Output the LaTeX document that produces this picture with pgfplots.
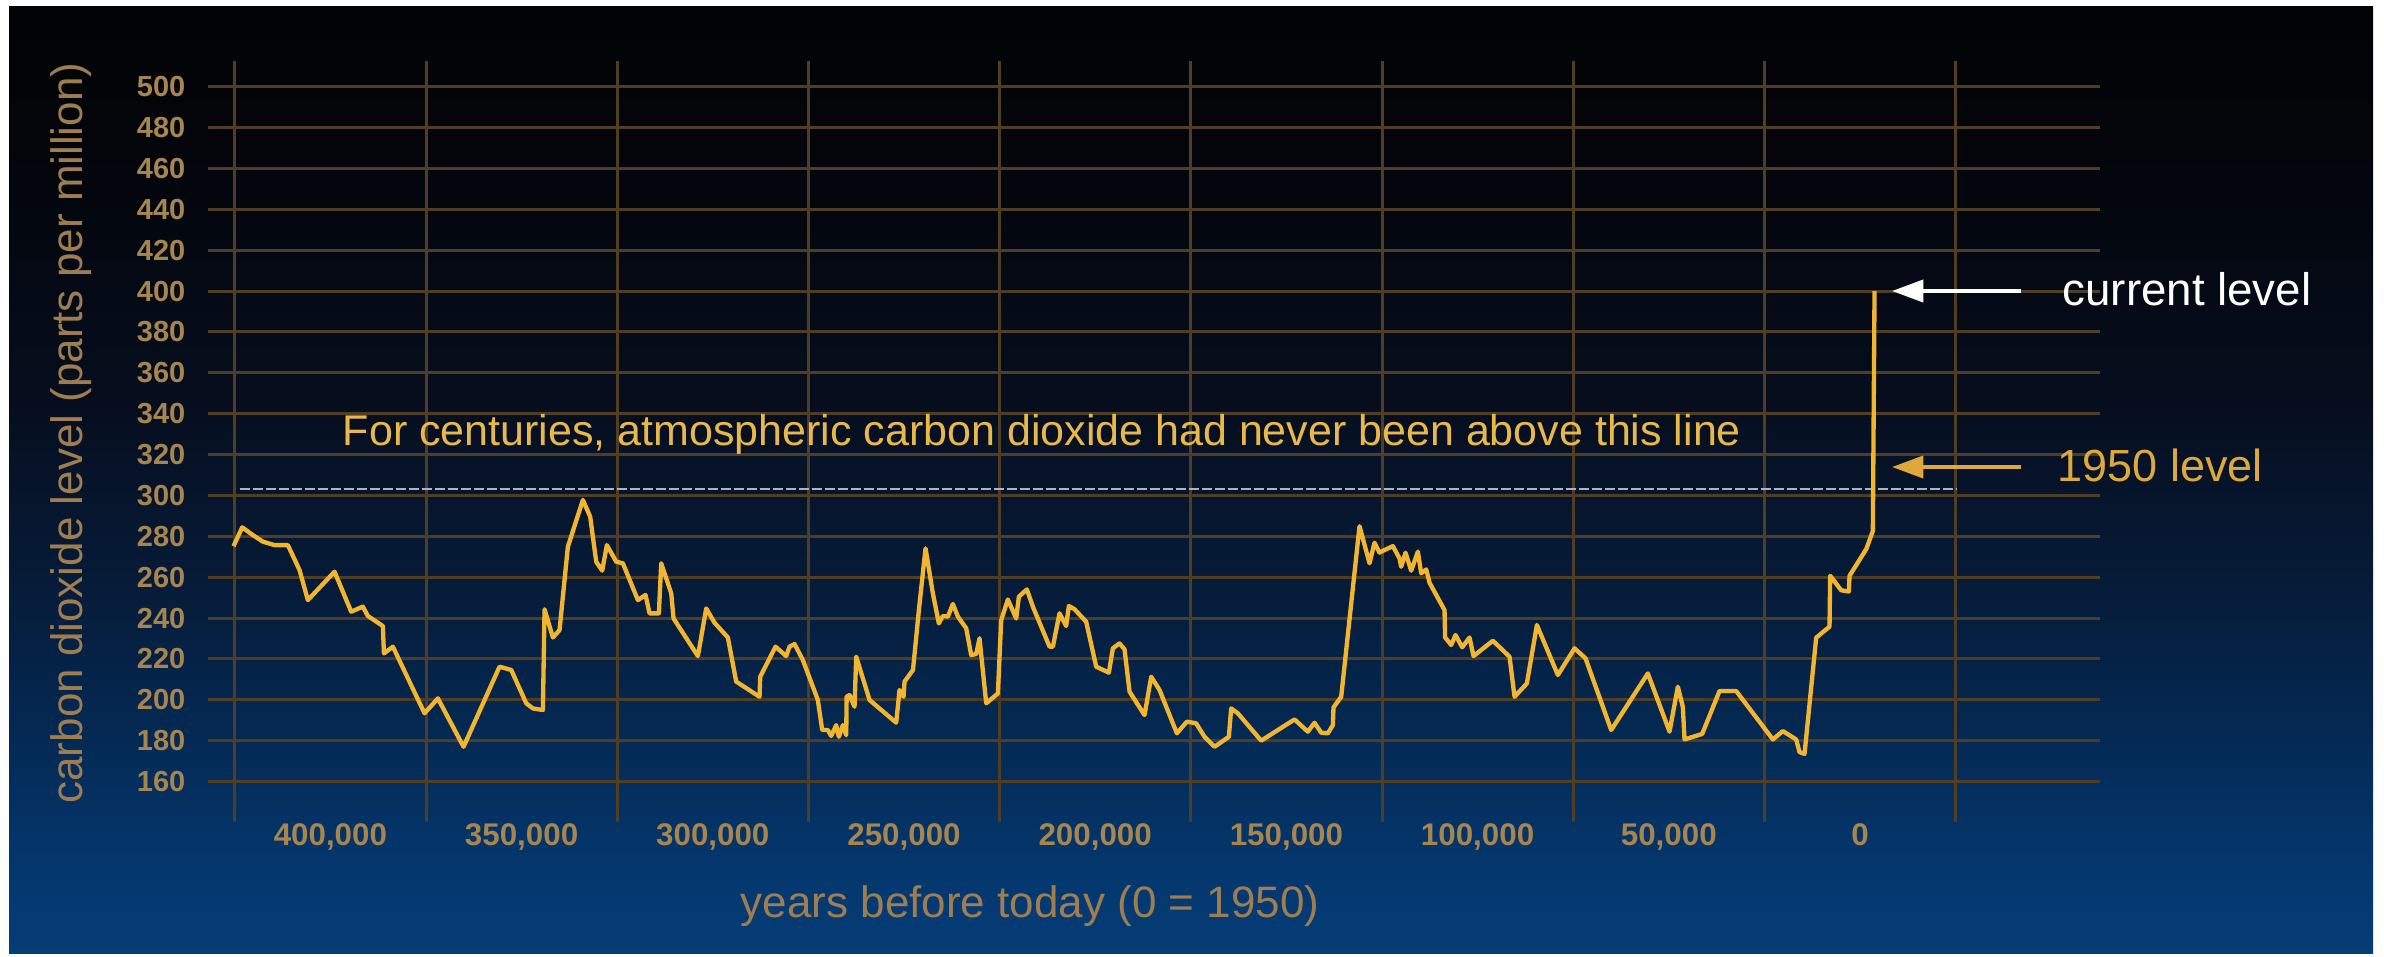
\documentclass[border=0pt]{standalone}
\usepackage{fontspec}
\setmainfont{Liberation Sans}
\usepackage{pgfplots}
\usepackage{pgfplotstable}
\pgfplotsset{compat=1.18}
\usetikzlibrary{arrows.meta}
\definecolor{gridc}{HTML}{4F3D24}
\definecolor{tickc}{HTML}{A6854F}
\definecolor{titlec}{HTML}{9E7E50}
\definecolor{linec}{HTML}{F2B530}
\definecolor{notec}{HTML}{E8B84B}
\definecolor{goldc}{HTML}{DDA93C}
\definecolor{dashc}{HTML}{AEB3C2}
\definecolor{bg0}{HTML}{053D78}
\definecolor{bg1}{HTML}{04356A}
\definecolor{bg2}{HTML}{042A55}
\definecolor{bg3}{HTML}{061C3A}
\definecolor{bg4}{HTML}{060E1E}
\definecolor{bg5}{HTML}{03060D}
\definecolor{bg6}{HTML}{020305}
\pgfdeclareverticalshading{bgshade}{100bp}{color(0bp)=(bg0); color(25bp)=(bg0); color(30.5bp)=(bg1); color(36bp)=(bg2); color(44bp)=(bg3); color(54bp)=(bg4); color(65bp)=(bg5); color(75bp)=(bg6); color(100bp)=(bg6)}

\pgfplotstableread{
year ppm
425330 275.2
423060 284.4
420270 280.6
417660 277.4
414610 275.7
411120 275.7
408070 263.5
405890 248.8
398920 262.7
394560 243.1
391510 245.6
390200 241.0
386280 236.1
386000 222.7
383660 226.0
375380 193.4
371890 200.7
365180 177.0
355770 216.2
352710 214.6
348790 198.3
347050 195.8
344430 195.0
344000 244.3
341820 230.5
340080 234.1
337900 274.9
333970 297.8
332060 289.6
330490 267.6
328920 263.2
327700 275.7
325260 267.6
323510 266.8
319590 248.8
317590 251.3
316540 242.3
314100 242.3
313490 266.8
310870 252.1
310260 239.8
303900 221.4
301720 244.7
299550 237.7
296060 230.5
293880 208.9
287780 201.5
287600 211.3
283600 226.0
280810 221.4
279940 226.0
278630 227.3
276450 219.5
272530 199.9
271390 185.2
269910 185.2
269040 182.3
267730 187.6
267030 181.9
265990 187.6
265110 182.7
265000 201.5
264240 202.3
262940 196.6
262500 221.1
259010 199.9
252040 188.8
251170 204.8
250120 201.5
249860 208.9
247650 214.6
246110 243.9
244370 274.1
242450 252.1
240880 237.4
239840 241.0
238530 240.7
237220 246.9
235910 240.7
233730 235.0
232430 221.9
231120 222.4
230250 230.1
228500 198.3
225450 203.1
224580 239.0
222840 249.1
220660 239.8
219960 250.5
217870 254.0
216300 245.6
211940 226.0
211070 226.0
209330 242.3
207590 236.1
206890 245.9
205400 244.3
202360 238.2
199740 216.2
196430 213.3
195380 225.2
193640 227.6
192330 224.7
191020 204.0
187100 192.5
185360 211.3
183170 204.8
178640 183.6
176030 189.3
173600 188.5
171410 181.9
168800 177.0
165050 181.9
164440 195.8
162700 193.4
156590 180.0
147880 190.4
144390 184.4
142650 188.8
140900 183.9
139160 183.6
137850 187.6
137680 196.3
135670 201.5
130880 285.0
128260 266.8
126960 276.9
125650 272.0
124340 273.3
122160 275.2
120420 269.2
119980 265.1
118850 272.0
117370 263.2
115620 272.5
114750 261.9
113440 263.8
112570 257.3
108650 243.9
108500 230.5
106910 226.8
105780 231.7
104030 225.7
102110 230.5
101070 221.4
96010 228.9
91650 221.1
90340 201.5
87120 208.0
84500 236.6
79010 212.1
74650 225.2
71780 220.3
65070 185.2
55480 212.9
49810 184.4
47640 206.4
46330 196.6
45890 180.6
41270 183.3
36740 204.3
32380 204.3
22790 180.6
20180 184.7
16690 180.6
15820 174.4
14510 173.5
11460 230.4
7970 235.8
7800 260.7
4920 253.6
2920 253.0
2740 260.7
-1620 273.7
-3360 282.6
-3800 400.0
}\cotwodata

\begin{document}
\begin{tikzpicture}
\useasboundingbox (0,0) rectangle (715.2pt,-286.8pt);
\fill[white] (0,0) rectangle (715.2pt,-286.8pt);
\shade[shading=bgshade] (2.7pt,-285.9pt) rectangle (711.9pt,-1.8pt);
\begin{axis}[
  at={(62.4pt,-246.6pt)}, anchor=south west,
  scale only axis, width=567.6pt, height=228.3pt,
  xmin=-432008, xmax=62762, ymin=140.2, ymax=512.6,
  scaled x ticks=false, scaled y ticks=false,
  axis line style={draw=none},
  major tick length=0pt,
  xtick={-400000,-350000,-300000,-250000,-200000,-150000,-100000,-50000,0},
  xticklabels={{400,000},{350,000},{300,000},{250,000},{200,000},{150,000},{100,000},{50,000},{0}},
  extra x ticks={-425000,-375000,-325000,-275000,-225000,-175000,-125000,-75000,-25000,25000},
  extra x tick labels={},
  extra x tick style={grid=major},
  ytick={160,180,...,500},
  ymajorgrids=true,
  major grid style={draw=gridc, line width=0.9pt},
  /pgf/number format/assume math mode=true,
  yticklabel style={font=\fontsize{8.7}{9}\selectfont\bfseries, text=tickc, anchor=east, inner sep=0pt, xshift=-6.6pt},
  xticklabel style={font=\fontsize{9.4}{10}\selectfont\bfseries, text=tickc, anchor=base, inner sep=0pt, yshift=-6.9pt},
  clip=false,
]
\addplot[dashc, line width=0.7pt, dash pattern=on 3pt off 0.9pt, forget plot] coordinates {(-423760,303) (25000,303)};
\addplot[linec, line width=1.3pt, line join=round, no markers] table[x expr=-\thisrow{year}, y=ppm]{\cotwodata};
\end{axis}
\draw[white, line width=1.2pt, -{Triangle[length=9.4pt,width=6.6pt]}] (606.3pt,-87.3pt) -- (567.6pt,-87.3pt);
\draw[goldc, line width=1.2pt, -{Triangle[length=9.4pt,width=6.6pt]}] (606.3pt,-140.1pt) -- (567.6pt,-140.1pt);
\node[anchor=base, text=notec, font=\fontsize{12.9}{14}\selectfont, inner sep=0pt] at (312.6pt,-133.5pt) {For centuries, atmospheric carbon dioxide had never been above this line};
\node[rotate=90, text=titlec, font=\fontsize{13.2}{15}\selectfont, inner sep=0pt] at (21.3pt,-129.9pt) {carbon dioxide level (parts per million)};
\node[anchor=base, text=titlec, font=\fontsize{13.2}{15}\selectfont, inner sep=0pt] at (309pt,-275.1pt) {years before today (0 = 1950)};
\node[anchor=base west, text=white, font=\fontsize{13.7}{15}\selectfont, inner sep=0pt] at (618.6pt,-91.5pt) {current level};
\node[anchor=base west, text=goldc, font=\fontsize{13.5}{15}\selectfont, inner sep=0pt] at (617.1pt,-144.3pt) {1950 level};
\end{tikzpicture}
\end{document}
